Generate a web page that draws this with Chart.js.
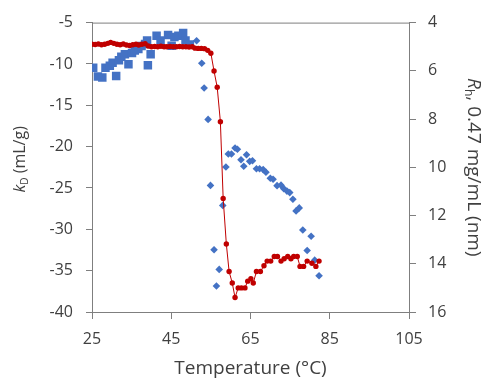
<!DOCTYPE html>
<html>
<head>
<meta charset="utf-8">
<script src="https://cdn.jsdelivr.net/npm/chart.js@4/dist/chart.umd.min.js"></script>
<style>
  html, body { margin: 0; padding: 0; background: #ffffff; }
  #wrap { width: 500px; height: 390px; position: relative; }
</style>
</head>
<body>
<div id="wrap"><canvas id="c" width="500" height="390"></canvas></div>
<script>
// ---- Data ----
const xTickValues = [25, 45, 65, 85, 105];
const leftTickValues = [-40, -35, -30, -25, -20, -15, -10, -5];
const rightTickValues = [4, 6, 8, 10, 12, 14, 16];

// Rh (nm), right axis, red circles with line
const rhTemps = [25.0, 25.8, 26.6, 27.4, 28.2, 29.0, 29.7, 30.5, 31.3, 32.1,
  32.9, 33.7, 34.5, 35.3, 36.1, 36.8, 37.6, 38.4, 39.2, 40.0,
  40.8, 41.6, 42.4, 43.2, 43.9, 44.7, 45.5, 46.3, 47.1, 47.9,
  48.7, 49.5, 50.3, 51.0, 51.8, 52.6, 53.4, 54.2, 55.0, 55.8,
  56.6, 57.4, 58.1, 58.9, 59.6, 60.4, 61.1, 61.9, 62.7, 63.6,
  64.3, 65.1, 65.7, 66.5, 67.5, 68.4, 69.2, 70.1, 71.0, 71.8,
  72.7, 73.5, 74.4, 75.2, 75.9, 76.8, 77.5, 78.4, 79.3, 80.5,
  81.5, 82.3];
const rhValues = [4.90, 4.91, 4.89, 4.92, 4.90, 4.86, 4.82, 4.86, 4.90, 4.92,
  4.89, 4.93, 4.95, 4.92, 4.90, 4.93, 4.90, 4.88, 4.97, 5.00,
  4.99, 5.00, 4.98, 5.00, 5.00, 4.99, 5.00, 5.00, 4.99, 5.00,
  5.00, 5.01, 5.00, 5.06, 5.07, 5.07, 5.08, 5.15, 5.27, 6.01,
  6.68, 8.11, 11.29, 13.18, 14.32, 14.80, 15.40, 15.00, 15.00, 15.00,
  14.72, 14.62, 14.80, 14.32, 14.32, 14.08, 13.89, 13.89, 13.70, 13.70,
  13.89, 13.79, 13.70, 13.79, 13.70, 13.70, 14.11, 14.11, 13.89, 13.98,
  14.11, 13.89];

// kD (mL/g), left axis, blue squares (low temperature)
const kdSquareTemps = [25.3, 26.5, 27.6, 28.4, 29.5, 30.2, 31.1, 31.8, 32.4, 33.3,
  34.2, 35.1, 35.8, 36.7, 37.5, 38.4, 38.9, 39.1, 39.8, 41.3,
  42.3, 44.2, 45.1, 45.8, 46.8, 48.0, 48.6, 49.7];
const kdSquareValues = [-10.46, -11.53, -11.65, -10.45, -10.21, -9.85, -11.47, -9.55, -9.14, -8.84,
  -10.03, -8.68, -8.36, -8.20, -7.82, -7.58, -7.16, -10.15, -8.84, -6.59,
  -7.16, -6.50, -7.80, -6.74, -6.59, -6.26, -7.16, -7.64];

// kD (mL/g), left axis, blue diamonds (high temperature)
const kdDiamondTemps = [51.4, 52.7, 53.3, 54.3, 54.9, 55.8, 56.4, 57.1, 58.0, 58.8,
  59.4, 60.2, 61.1, 61.7, 62.6, 63.3, 64.0, 64.8, 65.5, 66.5,
  67.3, 68.2, 68.9, 70.0, 70.7, 71.7, 72.7, 73.4, 74.2, 74.9,
  75.7, 76.5, 77.3, 78.2, 79.3, 80.3, 81.2, 82.3];
const kdDiamondValues = [-7.19, -9.92, -12.91, -16.71, -24.69, -32.48, -36.85, -34.85, -27.11, -22.46,
  -20.90, -20.90, -20.16, -20.32, -21.58, -22.38, -20.98, -21.78, -21.70, -22.68,
  -22.68, -22.78, -23.10, -23.82, -23.94, -24.72, -24.66, -25.08, -25.38, -25.56,
  -26.37, -27.77, -27.41, -30.09, -32.57, -30.83, -33.73, -35.62];

// ---- Styling ----
const BLUE = '#4472C4';
const RED = '#C00000';
const AXIS = '#7f7f7f';
const TEXT = '#404040';
const FONT = "'Open Sans', 'Noto Sans', sans-serif";

const toPoints = (xs, ys) => xs.map((x, i) => ({ x: x, y: ys[i] }));

const titlesPlugin = {
  id: 'customTitles',
  afterDraw(chart) {
    const ctx = chart.ctx;
    const ca = chart.chartArea;
    const drawRuns = (runs, cx, cy, angle) => {
      ctx.save();
      ctx.translate(cx, cy);
      ctx.rotate(angle);
      ctx.fillStyle = TEXT;
      ctx.textBaseline = 'middle';
      ctx.textAlign = 'left';
      let total = 0;
      runs.forEach(r => { ctx.font = r.font; r.w = ctx.measureText(r.text).width; total += r.w; });
      let x = -total / 2;
      runs.forEach(r => {
        ctx.font = r.font;
        ctx.fillText(r.text, x, r.dy || 0);
        x += r.w;
      });
      ctx.restore();
    };
    // x title
    drawRuns([{ text: 'Temperature (°C)', font: '19px ' + FONT }],
      (ca.left + ca.right) / 2, ca.bottom + 57, 0);
    // left title: k_D (mL/g)
    drawRuns([
      { text: 'k', font: 'italic 16px ' + FONT },
      { text: 'D', font: '10px ' + FONT, dy: 5 },
      { text: ' (mL/g)', font: '16px ' + FONT }
    ], ca.left - 72, (ca.top + ca.bottom) / 2 - 8, -Math.PI / 2);
    // right title: R_h, 0.47 mg/mL (nm)
    drawRuns([
      { text: 'R', font: 'italic 19px ' + FONT },
      { text: 'h', font: '12px ' + FONT, dy: 5 },
      { text: ', 0.47 mg/mL (nm)', font: '19px ' + FONT }
    ], ca.right + 64, (ca.top + ca.bottom) / 2, Math.PI / 2);
    // top border of plot area
    ctx.save();
    ctx.strokeStyle = AXIS;
    ctx.lineWidth = 1;
    ctx.beginPath();
    ctx.moveTo(ca.left, ca.top + 0.5);
    ctx.lineTo(ca.right, ca.top + 0.5);
    ctx.stroke();
    ctx.restore();
  }
};

const tickFont = { family: FONT, size: 16 };

new Chart(document.getElementById('c'), {
  type: 'scatter',
  data: {
    datasets: [
      {
        label: 'Rh',
        data: toPoints(rhTemps, rhValues),
        yAxisID: 'yR',
        showLine: true,
        borderColor: RED,
        borderWidth: 1,
        backgroundColor: RED,
        pointBackgroundColor: RED,
        pointBorderColor: RED,
        pointBorderWidth: 0,
        pointRadius: 2.7,
        pointStyle: 'circle',
        tension: 0
      },
      {
        label: 'kD diamonds',
        data: toPoints(kdDiamondTemps, kdDiamondValues),
        yAxisID: 'y',
        showLine: false,
        backgroundColor: BLUE,
        borderColor: BLUE,
        pointBorderWidth: 0,
        pointRadius: 3.8,
        pointStyle: 'rectRot'
      },
      {
        label: 'kD squares',
        data: toPoints(kdSquareTemps, kdSquareValues),
        yAxisID: 'y',
        showLine: false,
        backgroundColor: BLUE,
        borderColor: BLUE,
        pointBorderWidth: 0,
        pointRadius: 6,
        pointStyle: 'rect'
      }
    ]
  },
  options: {
    responsive: false,
    animation: false,
    events: [],
    layout: { padding: { top: 20, left: 0, right: 0, bottom: 0 } },
    plugins: { legend: { display: false }, tooltip: { enabled: false }, title: { display: false } },
    scales: {
      x: {
        type: 'linear',
        position: 'bottom',
        min: xTickValues[0],
        max: xTickValues[xTickValues.length - 1],
        afterBuildTicks: s => { s.ticks = xTickValues.map(v => ({ value: v })); },
        afterFit: s => { s.height = 78; },
        grid: { drawOnChartArea: false, drawTicks: true, tickLength: 7, color: AXIS },
        border: { color: AXIS, width: 1 },
        ticks: { font: tickFont, color: TEXT, padding: 11, maxRotation: 0 }
      },
      y: {
        type: 'linear',
        position: 'left',
        min: leftTickValues[0],
        max: leftTickValues[leftTickValues.length - 1],
        afterBuildTicks: s => { s.ticks = leftTickValues.map(v => ({ value: v })); },
        afterFit: s => { s.width = 92; },
        grid: { drawOnChartArea: false, drawTicks: true, tickLength: 6, color: AXIS },
        border: { color: AXIS, width: 1 },
        ticks: { font: tickFont, color: TEXT, padding: 13 }
      },
      yR: {
        type: 'linear',
        position: 'right',
        reverse: true,
        min: rightTickValues[0],
        max: rightTickValues[rightTickValues.length - 1],
        afterBuildTicks: s => { s.ticks = rightTickValues.map(v => ({ value: v })); },
        afterFit: s => { s.width = 91; },
        grid: { drawOnChartArea: false, drawTicks: true, tickLength: 7, color: AXIS },
        border: { color: AXIS, width: 1 },
        ticks: { font: tickFont, color: TEXT, padding: 12 }
      }
    }
  },
  plugins: [titlesPlugin]
});
</script>
</body>
</html>
